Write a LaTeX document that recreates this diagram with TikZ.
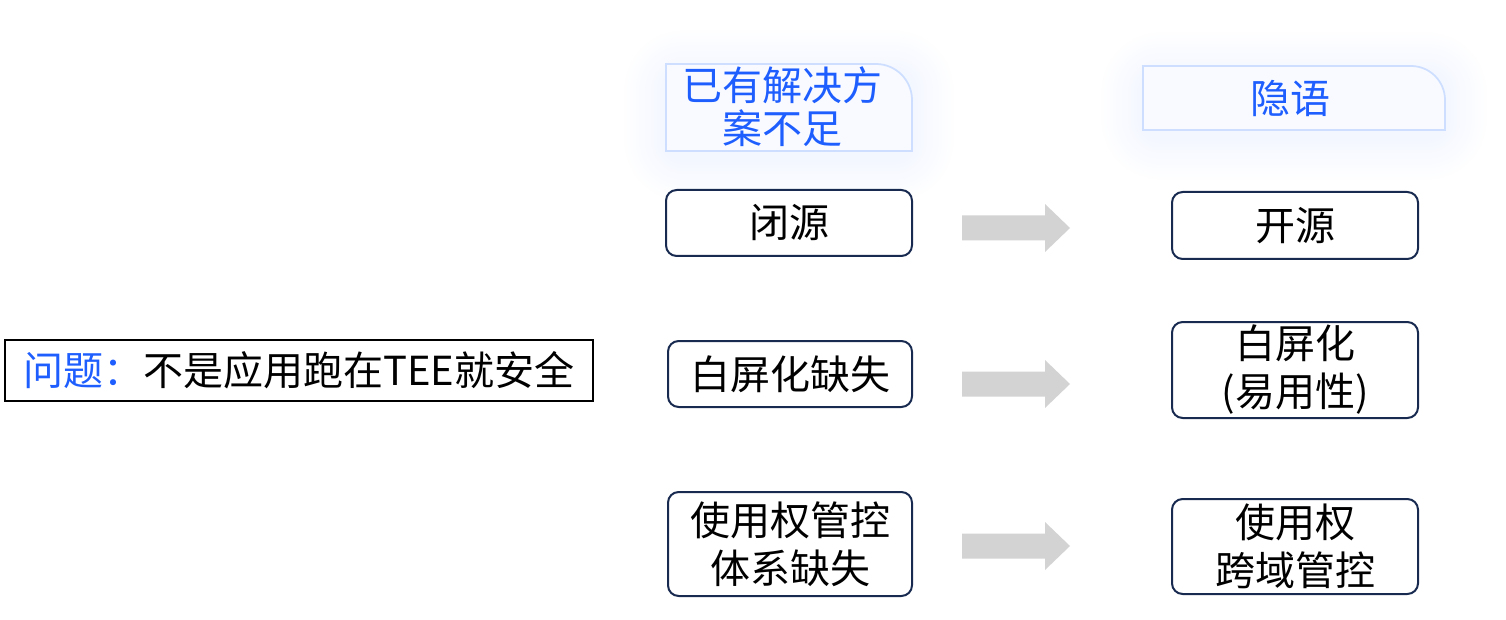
\documentclass[tikz,border=0pt]{standalone}
\usepackage{fontspec}
\setmainfont{Noto Sans CJK SC}
\usetikzlibrary{calc}
\definecolor{ublue}{RGB}{30,94,255}
\definecolor{navy}{RGB}{24,42,80}
\definecolor{agray}{RGB}{211,211,211}
\definecolor{hborder}{RGB}{205,222,255}
\definecolor{hfill}{RGB}{248,250,255}
\definecolor{glowc}{RGB}{185,205,255}
\newcommand{\glowbox}[4]{%
  \foreach \i in {1,...,14}{%
    \pgfmathsetmacro\rr{(18+3*\i)*0.75}%
    \fill[glowc, opacity=0.012, rounded corners=\rr pt] (#1-3*\i,#2-3*\i+8) rectangle (#3+3*\i,#4+3*\i+8);
  }%
}
\newcommand{\hdrshape}[5]{% x1 y1 x2 y2 r
  \filldraw[draw=hborder, fill=hfill, line width=1.3pt]
    (#1,#4) -- (#1,#2) -- (#3-#5,#2)
    .. controls (#3-0.448*#5,#2) and (#3,#2+0.448*#5) .. (#3,#2+#5)
    -- (#3,#4) -- cycle;
}
\tikzset{
  txt/.style={font=\fontsize{30pt}{36pt}\selectfont, align=center, inner sep=0pt},
  nodebox/.style={txt, draw=navy, line width=1.5pt, rounded corners=8pt, fill=white},
  hdrtxt/.style={font=\fontsize{30pt}{32pt}\selectfont, text=ublue, align=center, inner sep=0pt},
  arrowfill/.style={fill=agray},
}
\begin{document}
\begin{tikzpicture}[x=0.75pt,y=-0.75pt]
\useasboundingbox (0,0) rectangle (1506,620);
% header glows and shapes
\glowbox{666}{64}{912}{151}
\glowbox{1143}{66}{1445}{130}
\hdrshape{666}{64}{912}{151}{36}
\hdrshape{1143}{66}{1445}{130}{34}
\node[hdrtxt] (h1) at (782,107) {已有解决方\\案不足};
\node[hdrtxt] (h2) at (1290,98) {隐语};
% problem box
\node[txt, draw=black, line width=1.5pt, minimum width=441pt, minimum height=45.75pt] (p) at (299,370.5)
  {\textcolor{ublue}{问题：}不是应用跑在TEE就安全};
% left column
\node[nodebox, minimum width=184.5pt, minimum height=49.5pt] (c1) at (789,223) {闭源};
\node[nodebox, minimum width=183pt, minimum height=49.5pt] (c2) at (790,374) {白屏化缺失};
\node[nodebox, minimum width=183pt, minimum height=78pt] (c3) at (790,544) {使用权管控\\体系缺失};
% right column
\node[nodebox, minimum width=184.5pt, minimum height=50.25pt] (d1) at (1295,225.5) {开源};
\node[nodebox, minimum width=184.5pt, minimum height=72pt] (d2) at (1295,370) {白屏化\\(易用性)};
\node[nodebox, minimum width=184.5pt, minimum height=71.25pt] (d3) at (1295,546.5) {使用权\\跨域管控};
% block arrows
\coordinate (a1) at (1016,228);
\coordinate (a2) at (1016,384);
\coordinate (a3) at (1016,546);
\foreach \a in {a1,a2,a3}{
  \fill[arrowfill] ([shift={(-54,-12.5)}]\a) -- ([shift={(29,-12.5)}]\a) -- ([shift={(29,-24)}]\a)
    -- ([shift={(54,0)}]\a) -- ([shift={(29,24)}]\a) -- ([shift={(29,12.5)}]\a)
    -- ([shift={(-54,12.5)}]\a) -- cycle;
}
\end{tikzpicture}
\end{document}
